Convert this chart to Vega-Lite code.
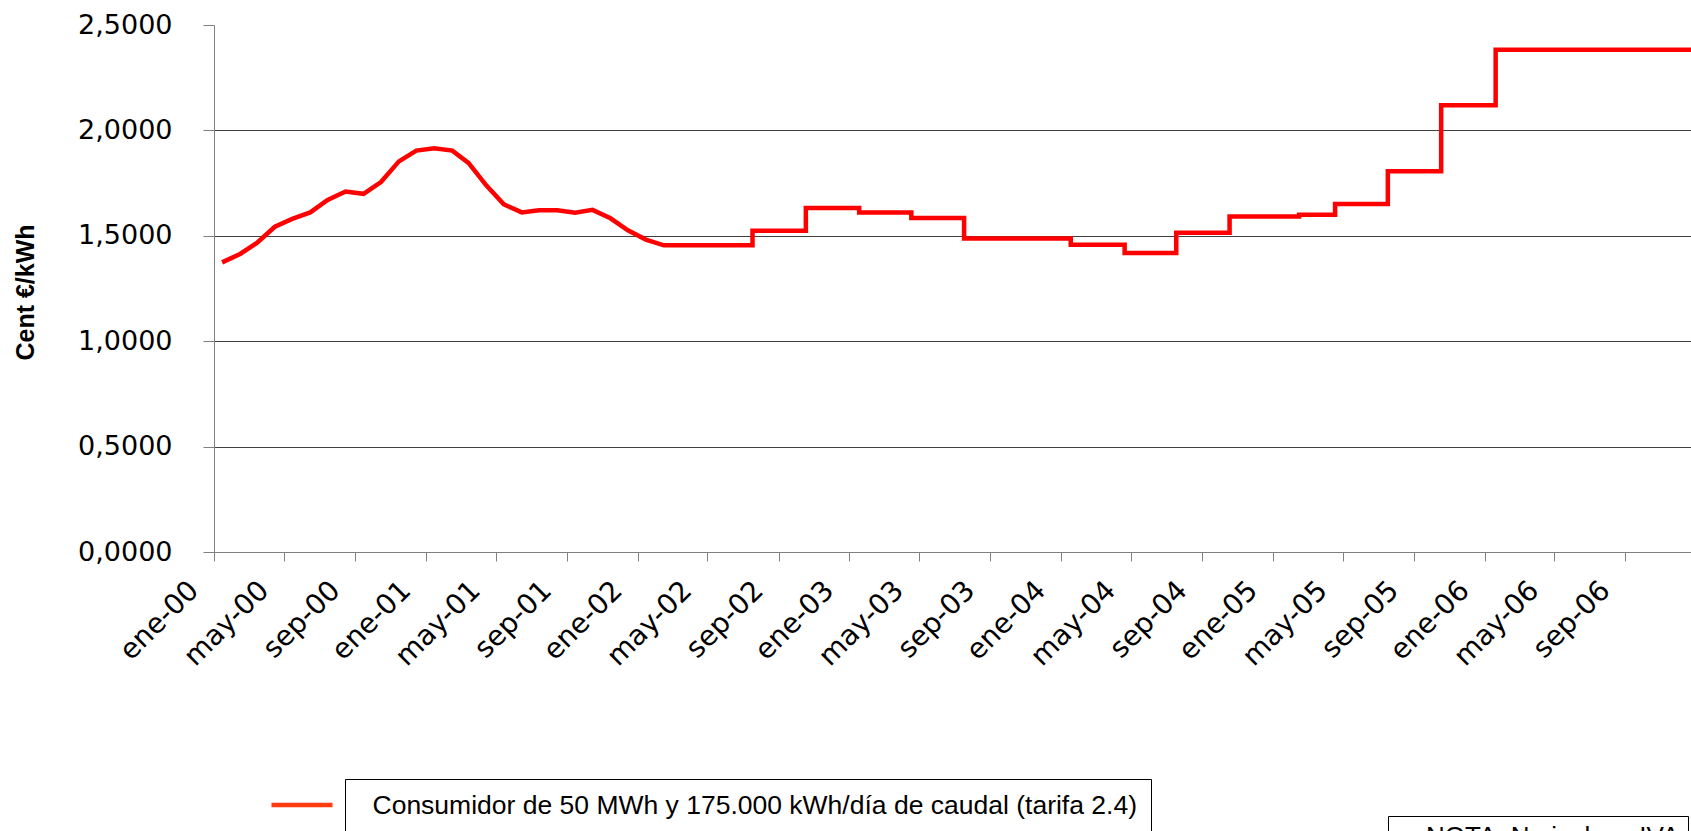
{
  "$schema": "https://vega.github.io/schema/vega-lite/v6.json",
  "width": 1477,
  "height": 527,
  "autosize": {"type": "none"},
  "padding": {"left": 214, "top": 25, "right": 0, "bottom": 279},
  "background": "white",
  "config": {
    "view": {"stroke": null},
    "locale": {
      "number": {"decimal": ",", "thousands": ".", "grouping": [3], "currency": ["", " €"]},
      "time": {
        "dateTime": "%A, %e de %B de %Y, %X",
        "date": "%d/%m/%Y",
        "time": "%H:%M:%S",
        "periods": ["AM", "PM"],
        "days": ["domingo", "lunes", "martes", "miércoles", "jueves", "viernes", "sábado"],
        "shortDays": ["dom", "lun", "mar", "mié", "jue", "vie", "sáb"],
        "months": ["enero", "febrero", "marzo", "abril", "mayo", "junio", "julio", "agosto", "septiembre", "octubre", "noviembre", "diciembre"],
        "shortMonths": ["ene", "feb", "mar", "abr", "may", "jun", "jul", "ago", "sep", "oct", "nov", "dic"]
      }
    }
  },
  "layer": [
    {
      "data": {
        "values": [
          {"fecha": "2000-01-15", "valor": 1.374},
          {"fecha": "2000-02-15", "valor": 1.414},
          {"fecha": "2000-03-15", "valor": 1.466},
          {"fecha": "2000-04-15", "valor": 1.543},
          {"fecha": "2000-05-15", "valor": 1.580},
          {"fecha": "2000-06-15", "valor": 1.611},
          {"fecha": "2000-07-15", "valor": 1.670},
          {"fecha": "2000-08-15", "valor": 1.710},
          {"fecha": "2000-09-15", "valor": 1.699},
          {"fecha": "2000-10-15", "valor": 1.755},
          {"fecha": "2000-11-15", "valor": 1.853},
          {"fecha": "2000-12-15", "valor": 1.904},
          {"fecha": "2001-01-15", "valor": 1.915},
          {"fecha": "2001-02-15", "valor": 1.904},
          {"fecha": "2001-03-15", "valor": 1.846},
          {"fecha": "2001-04-15", "valor": 1.738},
          {"fecha": "2001-05-15", "valor": 1.649},
          {"fecha": "2001-06-15", "valor": 1.611},
          {"fecha": "2001-07-15", "valor": 1.621},
          {"fecha": "2001-08-15", "valor": 1.621},
          {"fecha": "2001-09-15", "valor": 1.610},
          {"fecha": "2001-10-15", "valor": 1.623},
          {"fecha": "2001-11-15", "valor": 1.583},
          {"fecha": "2001-12-15", "valor": 1.526},
          {"fecha": "2002-01-15", "valor": 1.482},
          {"fecha": "2002-02-15", "valor": 1.455},
          {"fecha": "2002-07-18", "valor": 1.455},
          {"fecha": "2002-07-18", "valor": 1.524},
          {"fecha": "2002-10-18", "valor": 1.524},
          {"fecha": "2002-10-18", "valor": 1.632},
          {"fecha": "2003-01-18", "valor": 1.632},
          {"fecha": "2003-01-18", "valor": 1.611},
          {"fecha": "2003-04-18", "valor": 1.611},
          {"fecha": "2003-04-18", "valor": 1.585},
          {"fecha": "2003-07-18", "valor": 1.585},
          {"fecha": "2003-07-18", "valor": 1.487},
          {"fecha": "2004-01-18", "valor": 1.487},
          {"fecha": "2004-01-18", "valor": 1.457},
          {"fecha": "2004-04-20", "valor": 1.457},
          {"fecha": "2004-04-20", "valor": 1.419},
          {"fecha": "2004-07-18", "valor": 1.419},
          {"fecha": "2004-07-18", "valor": 1.515},
          {"fecha": "2004-10-18", "valor": 1.515},
          {"fecha": "2004-10-18", "valor": 1.592},
          {"fecha": "2005-02-15", "valor": 1.592},
          {"fecha": "2005-02-15", "valor": 1.600},
          {"fecha": "2005-04-18", "valor": 1.600},
          {"fecha": "2005-04-18", "valor": 1.651},
          {"fecha": "2005-07-18", "valor": 1.651},
          {"fecha": "2005-07-18", "valor": 1.806},
          {"fecha": "2005-10-18", "valor": 1.806},
          {"fecha": "2005-10-18", "valor": 2.119},
          {"fecha": "2006-01-20", "valor": 2.119},
          {"fecha": "2006-01-20", "valor": 2.383},
          {"fecha": "2006-12-31", "valor": 2.383}
        ]
      },
      "mark": {"type": "line", "stroke": "#ff0000", "strokeWidth": 4.5, "clip": true, "strokeJoin": "miter"},
      "encoding": {
        "x": {
          "field": "fecha",
          "type": "temporal",
          "scale": {
            "type": "utc",
            "domain": [
              {"year": 2000, "month": 1, "date": 1, "utc": true},
              {"year": 2006, "month": 12, "date": 23, "utc": true}
            ]
          },
          "axis": {
            "title": null,
            "grid": false,
            "tickCount": {"interval": "month", "step": 4},
            "labelExpr": "utcFormat(datum.value, '%b-%y')",
            "domainColor": "#808080",
            "tickColor": "#808080",
            "tickSize": 9,
            "labelFont": "DejaVu Sans",
            "labelFontSize": 28,
            "labelColor": "black",
            "labelAngle": -45,
            "labelAlign": "right",
            "labelBaseline": "middle",
            "labelPadding": 25,
            "labelOffset": -20,
            "labelOverlap": false,
            "labelFlush": false,
            "labelBound": false
          }
        },
        "y": {
          "field": "valor",
          "type": "quantitative",
          "scale": {"domain": [0, 2.5], "nice": false, "zero": true},
          "axis": {
            "values": [0, 0.5, 1, 1.5, 2, 2.5],
            "format": ".4f",
            "grid": true,
            "gridColor": {"condition": {"test": "datum.value >= 2.5", "value": "transparent"}, "value": "#404040"},
            "gridWidth": 1,
            "domainColor": "#808080",
            "tickColor": "#808080",
            "tickSize": 11,
            "labelFont": "DejaVu Sans",
            "labelFontSize": 27,
            "labelColor": "black",
            "labelPadding": 31,
            "labelFlush": false,
            "labelBound": false,
            "title": "Cent €/kWh",
            "titleFont": "Liberation Sans",
            "titleFontSize": 25,
            "titleFontWeight": "bold",
            "titleColor": "black",
            "titleAngle": -90,
            "titleX": -181,
            "titleY": 267,
            "titleAlign": "center",
            "titleBaseline": "alphabetic"
          }
        },
        "order": {"value": null}
      }
    },
    {
      "data": {"values": [{"linea": "Consumidor de 50 MWh y 175.000 kWh/día de caudal (tarifa 2.4)"}]},
      "mark": {"type": "point", "opacity": 0},
      "encoding": {
        "stroke": {
          "field": "linea",
          "type": "nominal",
          "scale": {"range": ["#ff3b0f"]},
          "legend": {
            "orient": "none",
            "legendX": 55,
            "legendY": 747,
            "title": null,
            "padding": 0,
            "symbolType": "stroke",
            "symbolSize": 3721,
            "symbolStrokeWidth": 4.5,
            "symbolOpacity": 1,
            "labelExpr": "''",
            "labelOffset": 0
          }
        }
      }
    },
    {
      "data": {"values": [{"descripcion": "Consumidor de 50 MWh y 175.000 kWh/día de caudal (tarifa 2.4)"}]},
      "mark": {"type": "point", "opacity": 0},
      "encoding": {
        "shape": {
          "field": "descripcion",
          "type": "nominal",
          "legend": {
            "orient": "none",
            "legendX": 131,
            "legendY": 754,
            "title": null,
            "strokeColor": "#000000",
            "padding": 14,
            "symbolSize": 0,
            "symbolOpacity": 0,
            "labelOffset": -13,
            "labelFont": "Liberation Sans",
            "labelFontSize": 26.5,
            "labelColor": "black",
            "labelLimit": 2000
          }
        }
      }
    },
    {
      "data": {"values": [{"nota": "NOTA: No incluye IVA"}]},
      "mark": {"type": "point", "opacity": 0},
      "encoding": {
        "fill": {
          "field": "nota",
          "type": "nominal",
          "legend": {
            "orient": "none",
            "legendX": 1174,
            "legendY": 791,
            "title": null,
            "strokeColor": "#000000",
            "padding": 8,
            "symbolSize": 0,
            "symbolOpacity": 0,
            "labelOffset": 4,
            "labelFont": "Liberation Sans",
            "labelFontSize": 26,
            "labelColor": "black",
            "labelLimit": 2000
          }
        }
      }
    }
  ]
}
